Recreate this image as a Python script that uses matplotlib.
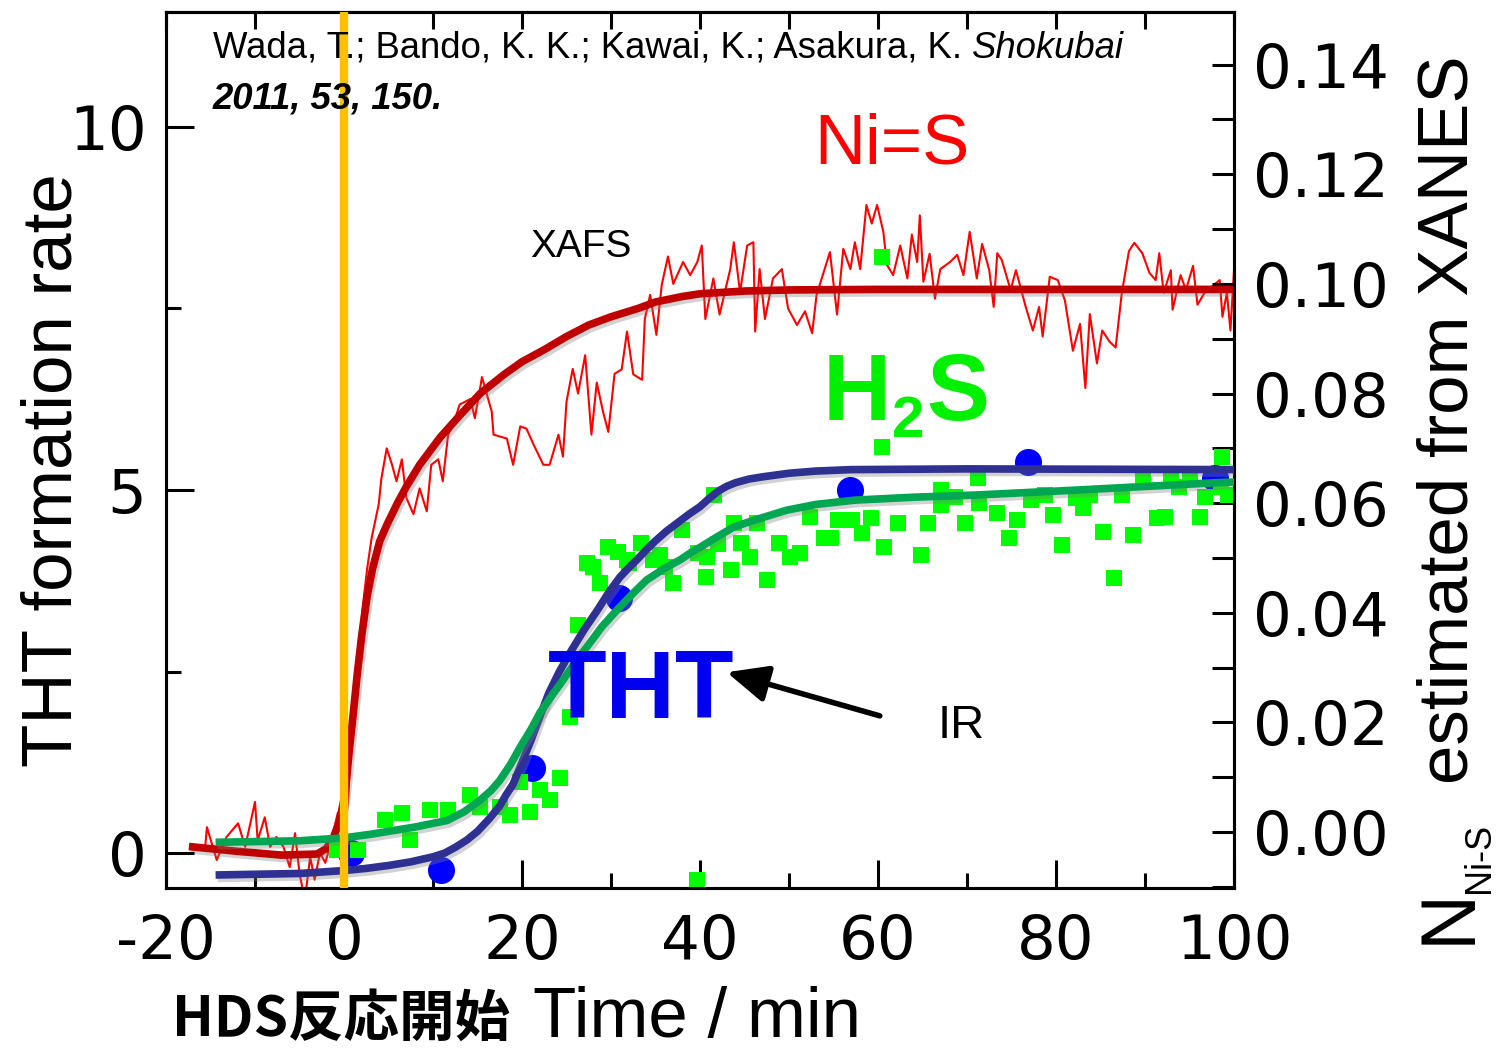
import matplotlib
matplotlib.use("Agg")
import matplotlib.pyplot as plt
from matplotlib import font_manager as fm
from matplotlib import patheffects as pe
from matplotlib.ticker import MultipleLocator, FormatStrFormatter

plt.rcParams['axes.unicode_minus'] = False

# ---------------- data ----------------
# XAFS N(Ni-S) raw trace (right axis)
red_t = [-15.6, -15.4, -14.3, -13.2, -11.9, -11.1, -10.0, -9.7, -8.9, -8.3, -7.6, -6.8, -6.1, -5.5,
         -5.0, -4.4, -3.8, -3.3, -2.7, -2.1, -1.4, -0.7, -0.1, 0.5, 0.9, 1.5, 2.1, 2.6, 3.1, 3.5,
         3.9, 4.2, 4.8, 5.4, 5.9, 6.5, 7.0, 7.8, 8.5, 9.3, 9.8, 10.6, 11.1, 11.7, 12.2, 13.0, 14.2,
         14.7, 15.3, 15.5, 16.6, 16.8, 18.3, 19.0, 19.8, 20.5, 21.3, 22.4, 23.1, 24.1, 24.6, 25.0,
         25.7, 26.3, 27.1, 27.8, 28.4, 29.1, 29.7, 30.4, 31.2, 31.8, 32.5, 33.5, 33.8, 34.4, 35.1,
         35.7, 36.4, 37.0, 38.1, 38.9, 39.7, 40.2, 40.6, 41.5, 42.2, 43.4, 43.8, 44.5, 45.3, 46.0,
         46.2, 46.7, 47.3, 48.2, 49.2, 49.9, 50.9, 51.8, 52.6, 53.1, 54.6, 55.4, 56.1, 56.9, 57.4,
         58.0, 58.7, 59.3, 59.9, 60.6, 61.0, 61.7, 62.5, 63.3, 63.8, 64.4, 64.7, 65.1, 65.8, 66.4,
         67.0, 68.1, 68.9, 69.6, 70.3, 71.1, 71.7, 72.5, 73.0, 73.4, 73.9, 74.9, 75.5, 76.6, 77.4,
         78.1, 78.5, 79.3, 80.2, 81.0, 81.9, 82.7, 83.3, 83.8, 84.6, 85.2, 86.0, 86.7, 87.4, 88.2,
         88.8, 89.7, 90.5, 91.2, 91.6, 92.1, 92.9, 93.1, 94.0, 94.6, 95.4, 95.9, 96.7, 97.5, 98.4,
         98.7, 99.2, 99.6, 100.0]
red_v = [-0.0027, 0.0009, -0.0051, -0.0009, 0.0016, -0.0027, 0.0055, -0.0015, 0.0027, -0.0027,
         -0.0009, -0.0027, -0.0064, -0.0002, -0.0075, -0.0124, -0.0045, -0.0087, -0.0038, -0.0056,
         -0.0015, 0.0035, -0.0027, 0.0064, 0.0216, 0.0307, 0.041, 0.048, 0.0536, 0.0567, 0.0598,
         0.0645, 0.070, 0.067, 0.064, 0.068, 0.061, 0.058, 0.0627, 0.0585, 0.067, 0.068, 0.064,
         0.0725, 0.074, 0.078, 0.079, 0.0755, 0.081, 0.083, 0.0767, 0.0725, 0.0718, 0.067, 0.074,
         0.0736, 0.0707, 0.067, 0.067, 0.0725, 0.0685, 0.0785, 0.0845, 0.080, 0.087, 0.0725, 0.082,
         0.0767, 0.073, 0.0836, 0.0844, 0.0913, 0.0835, 0.0825, 0.0936, 0.098, 0.0907, 0.0998, 0.105,
         0.100, 0.104, 0.1016, 0.104, 0.107, 0.0936, 0.101, 0.0944, 0.1027, 0.1076, 0.0985, 0.107,
         0.1076, 0.0913, 0.1027, 0.0936, 0.101, 0.1027, 0.0955, 0.0925, 0.095, 0.091, 0.098, 0.1058,
         0.0944, 0.1064, 0.1027, 0.1076, 0.1027, 0.1144, 0.111, 0.1144, 0.1095, 0.1035, 0.1016,
         0.107, 0.101, 0.109, 0.104, 0.1125, 0.1004, 0.1055, 0.0973, 0.1027, 0.104, 0.1053, 0.1016,
         0.1095, 0.101, 0.1073, 0.1025, 0.0958, 0.1056, 0.1044, 0.0989, 0.1025, 0.0958, 0.0915,
         0.0958, 0.0904, 0.1013, 0.1007, 0.097, 0.0878, 0.0927, 0.081, 0.0945, 0.0855, 0.0915,
         0.0895, 0.0884, 0.0984, 0.106, 0.1075, 0.1056, 0.102, 0.1007, 0.1056, 0.0984, 0.1025,
         0.0953, 0.1016, 0.0989, 0.1033, 0.0962, 0.0984, 0.0995, 0.1007, 0.094, 0.0984, 0.0915,
         0.1025]

# XAFS fit (right axis)
redfit_t = [-17, -12, -7, -3, -2, -1.2, -0.5, 0, 0.3, 0.6, 1, 1.5, 2, 2.6, 3.2, 4, 4.8, 6, 7,
            8.5, 10.8, 13, 15.3, 18, 20, 22.5, 25, 27.5, 30, 33, 35, 38, 40, 45, 50, 60, 100]
redfit_v = [-0.0027, -0.0035, -0.0042, -0.0040, -0.0030, -0.0010, 0.002, 0.006, 0.010, 0.015,
            0.021, 0.029, 0.036, 0.043, 0.048, 0.053, 0.056, 0.060, 0.063, 0.067, 0.072, 0.076,
            0.080, 0.0835, 0.0858, 0.088, 0.0904, 0.0925, 0.094, 0.0955, 0.0967, 0.0977, 0.0982,
            0.0987, 0.0989, 0.099, 0.099]

# IR H2S points (left axis)
h2s_t = [-0.8, 1.6, 4.6, 6.5, 7.4, 9.7, 11.7, 14.2, 15.3, 17.5, 18.7, 19.8, 20.9, 22.0, 23.1, 24.3,
         25.4, 26.3, 27.3, 28.0, 28.8, 29.7, 30.8, 31.8, 32.0, 33.4, 34.7, 35.5, 36.1, 37.0, 38.0,
         39.7, 39.8, 40.7, 40.8, 41.6, 42.0, 43.5, 43.8, 44.6, 45.6, 46.4, 47.5, 48.9, 50.1, 51.2,
         52.4, 53.9, 54.7, 55.5, 57.1, 58.2, 59.2, 60.4, 60.4, 60.7, 62.2, 64.8, 65.6, 67.1, 67.1,
         68.7, 69.8, 71.2, 71.3, 73.4, 74.7, 75.6, 77.2, 78.8, 79.7, 80.7, 82.2, 83.0, 83.8, 85.3,
         86.5, 87.4, 88.7, 89.8, 91.3, 92.2, 92.9, 93.8, 95.1, 96.2, 96.7, 98.5, 98.7, 99.3]
h2s_v = [0.04, 0.04, 0.45, 0.55, 0.18, 0.59, 0.59, 0.80, 0.63, 0.63, 0.52, 0.98, 0.56, 0.87, 0.73,
         1.03, 1.87, 3.14, 3.99, 3.94, 3.72, 4.21, 4.15, 4.04, 3.99, 4.27, 4.04, 4.10, 3.94, 3.72,
         4.45, -0.37, 4.13, 3.80, 4.08, 4.93, 4.25, 3.90, 4.55, 4.27, 4.08, 4.55, 3.76, 4.27, 4.08,
         4.13, 4.63, 4.34, 4.34, 4.59, 4.59, 4.41, 4.61, 5.59, 8.21, 4.21, 4.55, 4.10, 4.55, 5.00,
         4.79, 4.90, 4.55, 5.17, 4.82, 4.68, 4.34, 4.59, 4.86, 4.93, 4.66, 4.24, 4.89, 4.75, 4.93,
         4.42, 3.79, 4.93, 4.38, 5.17, 4.61, 4.63, 5.17, 5.04, 5.17, 4.63, 4.90, 5.04, 5.45, 4.93]

# IR THT points (left axis)
tht_t = [0.8, 10.9, 21.1, 30.9, 56.9, 76.9, 97.9]
tht_v = [0.00, -0.23, 1.17, 3.51, 5.00, 5.39, 5.17]

# THT fit
thtfit_t = [-14, -5, 0, 2.5, 5, 7.5, 10, 11.3, 12.5, 13.8, 15, 16.3, 17.5, 18.2, 19, 20, 21, 22, 23,
            24.2, 25.5, 27, 28.5, 29.8, 31, 32, 33, 34, 35, 36.2, 37.5, 38.8, 40, 41, 42, 43, 44,
            45.5, 47, 50, 53, 57, 70, 100]
thtfit_v = [-0.30, -0.28, -0.24, -0.21, -0.17, -0.12, -0.05, 0.00, 0.08, 0.18, 0.30, 0.47, 0.65,
            0.80, 0.95, 1.25, 1.55, 1.88, 2.20, 2.50, 2.78, 3.08, 3.35, 3.60, 3.80, 3.93, 4.05,
            4.18, 4.30, 4.43, 4.55, 4.67, 4.77, 4.88, 4.98, 5.05, 5.10, 5.15, 5.18, 5.23, 5.26,
            5.28, 5.29, 5.28]

# H2S fit
h2sfit_t = [-14, -5, 0, 3, 6, 8, 10, 11.6, 13.5, 15.3, 16.5, 17.5, 18.7, 19.8, 21, 22, 23.3, 24.6,
            26, 27.6, 29, 30.7, 32.5, 34, 36, 37.8, 39, 40, 42, 43.8, 46, 49.7, 53, 57.4, 64, 71,
            82.6, 98, 100]
h2sfit_v = [0.15, 0.17, 0.21, 0.26, 0.32, 0.36, 0.41, 0.45, 0.57, 0.73, 0.86, 1.00, 1.22, 1.46,
            1.70, 1.93, 2.16, 2.38, 2.63, 2.89, 3.12, 3.35, 3.58, 3.76, 3.92, 4.04, 4.14, 4.21,
            4.36, 4.49, 4.58, 4.72, 4.80, 4.86, 4.90, 4.93, 5.00, 5.10, 5.11]

x_ticks = [-20, 0, 20, 40, 60, 80, 100]
left_ticks = [0, 5, 10]

# ---------------- fonts ----------------
def has_font(name):
    try:
        fm.findfont(name, fallback_to_default=False)
        return True
    except Exception:
        return False

NARROW_OK = has_font('Liberation Sans Narrow')
NARROW = 'Liberation Sans Narrow' if NARROW_OK else 'Liberation Sans'
nscale = 1.0 if NARROW_OK else 0.82
SANS = 'Liberation Sans'

# ---------------- figure ----------------
W, H = 1501, 1053
fig = plt.figure(figsize=(W / 100, H / 100), dpi=100)
ax = fig.add_axes([166 / W, 1 - 888 / H, (1234 - 166) / W, (888 - 12) / H])
ax2 = ax.twinx()
ax2.set_zorder(ax.get_zorder() - 1)
ax.patch.set_visible(False)

shadow = [pe.SimpleLineShadow(offset=(1.5, -2.5), shadow_color='gray', alpha=0.35), pe.Normal()]

# right-axis (XAFS)
ax2.plot(red_t, red_v, color='#FF0000', lw=1.5, zorder=1)
ax2.plot(redfit_t, redfit_v, color='#C00000', lw=5.5, zorder=2, path_effects=shadow,
         solid_joinstyle='round')

# left-axis (IR)
ax.scatter(tht_t, tht_v, marker='o', s=380, color='#0000FF', linewidths=0, zorder=1.9)
ax.scatter(h2s_t, h2s_v, marker='s', s=130, color='#00FF00', linewidths=0, zorder=2)
ax.plot(thtfit_t, thtfit_v, color='#2E3192', lw=5.5, zorder=3, path_effects=shadow,
        solid_joinstyle='round')
ax.plot(h2sfit_t, h2sfit_v, color='#00A651', lw=5.5, zorder=3.2, path_effects=shadow,
        solid_joinstyle='round')
ax.axvline(0, color='#FFC000', lw=6, zorder=10)

ax.set_xlim(-20, 100)
ax.set_ylim(-0.48, 11.58)
ax2.set_ylim(-0.0102, 0.1496)

# ticks
ax.set_xticks(x_ticks)
ax.xaxis.set_minor_locator(MultipleLocator(10))
ax.set_yticks(left_ticks)
ax.yaxis.set_minor_locator(MultipleLocator(2.5))
ax.tick_params(axis='both', which='major', direction='in', length=20, width=2.2,
               labelsize=44)
ax.tick_params(axis='both', which='minor', direction='in', length=11, width=2.2)
ax.tick_params(axis='x', which='major', pad=18)
ax.tick_params(axis='y', which='major', pad=14)
for lab in ax.get_xticklabels() + ax.get_yticklabels():
    lab.set_fontfamily('DejaVu Sans')

secx = ax.secondary_xaxis('top')
secx.xaxis.set_major_locator(MultipleLocator(10))
secx.tick_params(direction='in', length=12, width=2.2, labeltop=False)
secx.spines['top'].set_linewidth(2.2)

ax2.yaxis.set_major_locator(MultipleLocator(0.02))
ax2.yaxis.set_minor_locator(MultipleLocator(0.01))
ax2.yaxis.set_major_formatter(FormatStrFormatter('%.2f'))
ax2.tick_params(axis='y', which='major', direction='in', length=16, width=2.2, labelsize=44, pad=14)
ax2.tick_params(axis='y', which='minor', direction='in', length=16, width=2.2)
for lab in ax2.get_yticklabels():
    lab.set_fontfamily('DejaVu Sans')

for a in (ax, ax2):
    for s in a.spines.values():
        s.set_linewidth(2.2)

# axis labels
fig.text(54 / W, 1 - 470 / H, 'THT formation rate', rotation=90, ha='center', va='center',
         fontsize=51, family=SANS)
fig.text(1449 / W, 1 - 420 / H, 'estimated from XANES', rotation=90, ha='center', va='center',
         fontsize=51, family=SANS)
fig.text(1449 / W, 1 - 916 / H, 'N', rotation=90, ha='center', va='center',
         fontsize=56, family=SANS)
fig.text(1479 / W, 1 - 858 / H, 'Ni-S', rotation=90, ha='center', va='center',
         fontsize=26, family=SANS)
fig.text(172 / W, 1 - 1036 / H, 'HDS反応開始', ha='left', va='baseline', fontsize=40,
         fontweight='bold', family=['Noto Sans CJK JP', 'DejaVu Sans'])
fig.text(533 / W, 1 - 1037 / H, 'Time / min', ha='left', va='baseline', fontsize=51, family=SANS)

# citation
t1 = fig.text(213 / W, 1 - 58 / H, 'Wada, T.; Bando, K. K.; Kawai, K.; Asakura, K. ',
              ha='left', va='baseline', fontsize=32 * nscale, family=NARROW, zorder=12)
ax.annotate('Shokubai', xy=(1, 0), xycoords=t1, ha='left', va='bottom',
            fontsize=32 * nscale, family=NARROW, style='italic', zorder=12,
            annotation_clip=False)
fig.text(213 / W, 1 - 108 / H, '2011, 53, 150.', ha='left', va='baseline',
         fontsize=32 * nscale, family=NARROW, fontweight='bold', style='italic', zorder=12)

# annotations
ax.text(61.6, 9.50, 'Ni=S', color='#FF0000', ha='center', va='baseline',
        fontsize=62 * nscale, family=NARROW, zorder=12)
ax.text(26.6, 8.21, 'XAFS', color='black', ha='center', va='baseline',
        fontsize=28, family=NARROW, zorder=12)
tH = ax.text(53.8, 5.96, 'H', color='#00F000', ha='left', va='baseline',
             fontsize=68, fontweight='bold', family=SANS, zorder=12)
t2 = ax.annotate('2', xy=(1, 0), xycoords=tH, xytext=(1, -6), textcoords='offset points',
                 ha='left', va='bottom', color='#00F000', fontsize=42, fontweight='bold',
                 family=SANS, zorder=12)
ax.annotate('S', xy=(1, 0), xycoords=t2, xytext=(1, 6), textcoords='offset points',
            ha='left', va='bottom', color='#00F000', fontsize=68, fontweight='bold',
            family=SANS, zorder=12)
ax.text(33.4, 1.86, 'THT', color='#0000F0', ha='center', va='baseline',
        fontsize=69, fontweight='bold', family=SANS, zorder=12)
ax.text(69.4, 1.58, 'IR', color='black', ha='center', va='baseline',
        fontsize=34, family=NARROW, zorder=12)
ax.annotate('', xy=(43.0, 2.49), xytext=(60.2, 1.89),
            arrowprops=dict(arrowstyle='-|>,head_length=1.0,head_width=0.45', lw=4,
                            color='black', mutation_scale=25, shrinkA=0, shrinkB=0),
            zorder=12)

fig.savefig('out.png', dpi=100)
